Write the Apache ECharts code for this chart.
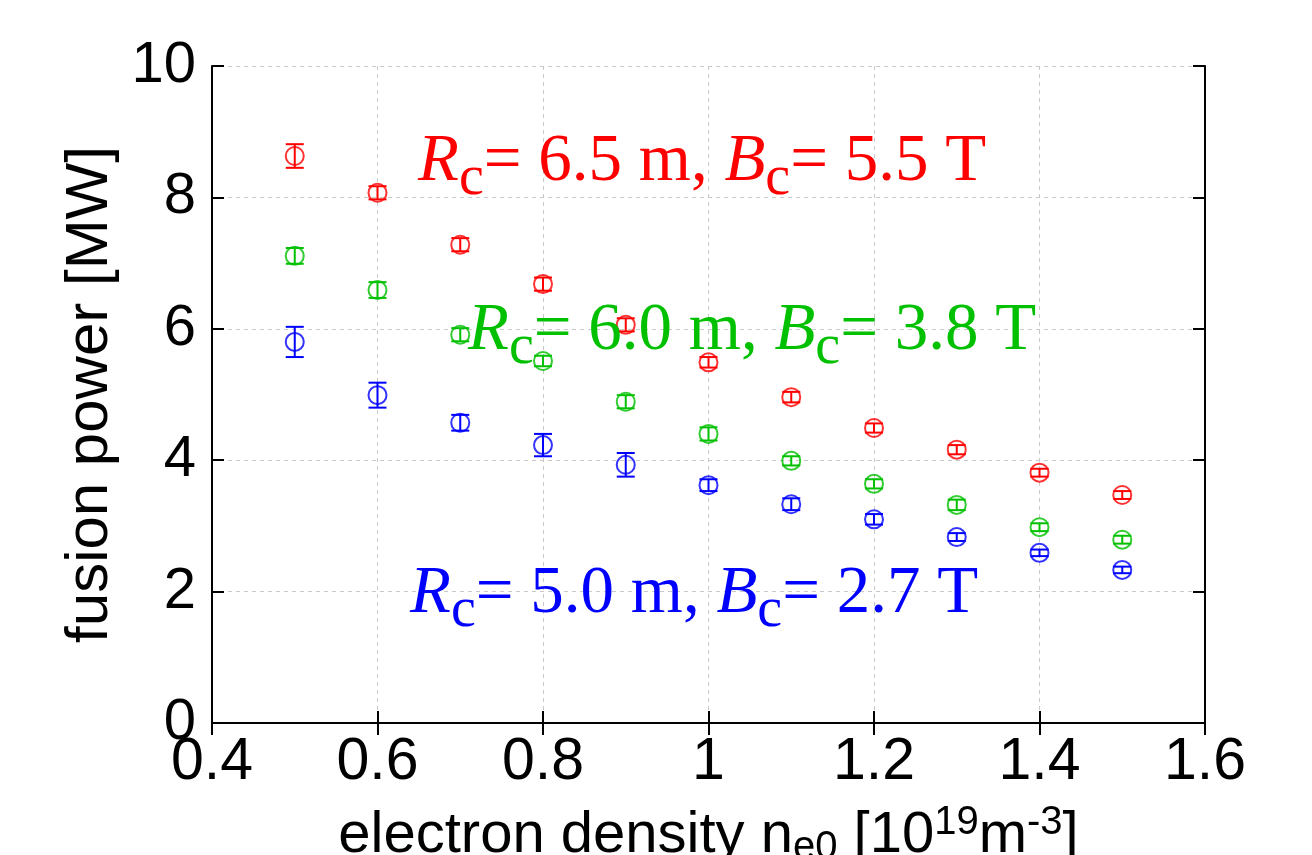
<!DOCTYPE html>
<html>
<head>
<meta charset="utf-8">
<script src="https://cdn.jsdelivr.net/npm/echarts@6/dist/echarts.min.js"></script>
<style>
html, body { margin: 0; padding: 0; background: #fff; }
#chart { width: 1312px; height: 855px; }
</style>
</head>
<body>
<div id="chart"></div>
<script>
// electron density [1e19 m^-3]
var density = [0.5, 0.6, 0.7, 0.8, 0.9, 1.0, 1.1, 1.2, 1.3, 1.4, 1.5];

// fusion power [MW] for each device
var powerR65 = [8.63, 8.07, 7.28, 6.68, 6.06, 5.49, 4.96, 4.49, 4.16, 3.81, 3.47];
var powerR60 = [7.11, 6.59, 5.91, 5.51, 4.89, 4.40, 3.99, 3.64, 3.32, 2.98, 2.79];
var powerR50 = [5.80, 4.99, 4.57, 4.23, 3.93, 3.62, 3.33, 3.10, 2.83, 2.59, 2.33];

// error bars (half width)
var errR65 = [0.18, 0.10, 0.10, 0.10, 0.10, 0.08, 0.08, 0.07, 0.07, 0.06, 0.06];
var errR60 = [0.12, 0.12, 0.10, 0.08, 0.10, 0.10, 0.07, 0.07, 0.08, 0.06, 0.06];
var errR50 = [0.23, 0.19, 0.12, 0.17, 0.18, 0.09, 0.09, 0.08, 0.06, 0.05, 0.05];

var xTicks = [0.4, 0.6, 0.8, 1.0, 1.2, 1.4, 1.6];
var yTicks = [0, 2, 4, 6, 8, 10];

var RED = '#ff0000', GREEN = '#00c000', BLUE = '#0000ff';

function pts(ys) {
    return density.map(function (x, i) { return [x, ys[i]]; });
}
function errPts(ys, es) {
    return density.map(function (x, i) { return [x, ys[i], es[i]]; });
}

function errBar(color) {
    return function (params, api) {
        var x = api.value(0), y = api.value(1), e = api.value(2);
        var hi = api.coord([x, y + e]);
        var lo = api.coord([x, y - e]);
        var w = 9;
        var st = { stroke: color, lineWidth: 2 };
        return {
            type: 'group',
            children: [
                { type: 'line', shape: { x1: hi[0], y1: hi[1], x2: lo[0], y2: lo[1] }, style: st },
                { type: 'line', shape: { x1: hi[0] - w, y1: hi[1], x2: hi[0] + w, y2: hi[1] }, style: st },
                { type: 'line', shape: { x1: lo[0] - w, y1: lo[1], x2: lo[0] + w, y2: lo[1] }, style: st }
            ]
        };
    };
}

function circles(name, ys, color) {
    return {
        name: name,
        type: 'scatter',
        data: pts(ys),
        symbol: 'circle',
        symbolSize: 18,
        itemStyle: { color: 'rgba(0,0,0,0)', borderColor: color, borderWidth: 2 },
        z: 3
    };
}
function bars(name, ys, es, color) {
    return {
        name: name,
        type: 'custom',
        data: errPts(ys, es),
        renderItem: errBar(color),
        z: 4
    };
}

var sans = 'Liberation Sans, Arial, sans-serif';
var serif = 'Liberation Serif, Times New Roman, serif';

function label(a, b) {
    return '{i|R}{s|c}{n|= ' + a + ' m, }{i|B}{s|c}{n|= ' + b + ' T}';
}
function labelRich(color) {
    return {
        i: { fontFamily: serif, fontSize: 67, fontStyle: 'italic', fill: color, color: color },
        n: { fontFamily: serif, fontSize: 67, fill: color, color: color },
        s: { fontFamily: serif, fontSize: 56, fill: color, color: color, padding: [34, 0, 0, 0] }
    };
}

var tickStyle = { show: true, inside: true, length: 12, lineStyle: { color: '#000', width: 2 } };
var gridLine = { show: true, lineStyle: { color: '#c8c8c8', type: [4, 4], width: 1 } };

var myChart = echarts.init(document.getElementById('chart'));

myChart.setOption({
    backgroundColor: '#fff',
    animation: false,
    grid: { left: 212, right: 107, top: 66, bottom: 132, containLabel: false, outerBoundsMode: 'none' },
    xAxis: [{
        type: 'value',
        min: xTicks[0],
        max: xTicks[xTicks.length - 1],
        interval: 0.2,
        position: 'bottom',
        axisLine: { show: true, lineStyle: { color: '#000', width: 2 } },
        axisTick: tickStyle,
        splitLine: gridLine,
        axisLabel: {
            color: '#000', fontSize: 59, fontFamily: sans, margin: 10,
            formatter: function (v) { return String(Math.round(v * 10) / 10); }
        },
        name: 'electron density n{sub|e0} [10{sup|19}m{sup|-3}]',
        nameLocation: 'middle',
        nameGap: 80,
        nameTextStyle: {
            color: '#000', fontSize: 58, fontFamily: sans,
            rich: {
                sub: { fontSize: 40, fontFamily: sans, color: '#000', padding: [24, 0, 0, 0] },
                sup: { fontSize: 40, fontFamily: sans, color: '#000', padding: [0, 0, 26, 0] }
            }
        }
    }, {
        type: 'value',
        min: xTicks[0],
        max: xTicks[xTicks.length - 1],
        interval: 0.2,
        position: 'top',
        axisLine: { show: true, lineStyle: { color: '#000', width: 2 } },
        axisTick: tickStyle,
        splitLine: { show: false },
        axisLabel: { show: false }
    }],
    yAxis: [{
        type: 'value',
        min: yTicks[0],
        max: yTicks[yTicks.length - 1],
        interval: 2,
        position: 'left',
        axisLine: { show: true, lineStyle: { color: '#000', width: 2 } },
        axisTick: tickStyle,
        splitLine: gridLine,
        axisLabel: { color: '#000', fontSize: 58, fontFamily: sans, margin: 16 },
        name: 'fusion power [MW]',
        nameLocation: 'middle',
        nameGap: 84,
        nameRotate: 90,
        nameTextStyle: { color: '#000', fontSize: 60, fontFamily: sans }
    }, {
        type: 'value',
        min: yTicks[0],
        max: yTicks[yTicks.length - 1],
        interval: 2,
        position: 'right',
        axisLine: { show: true, lineStyle: { color: '#000', width: 2 } },
        axisTick: tickStyle,
        splitLine: { show: false },
        axisLabel: { show: false }
    }],
    graphic: [
        {
            type: 'text', x: 418, y: 162, z: 10,
            style: { text: label('6.5', '5.5'), rich: labelRich(RED), fill: RED, verticalAlign: 'middle' }
        },
        {
            type: 'text', x: 468, y: 331, z: 10,
            style: { text: label('6.0', '3.8'), rich: labelRich(GREEN), fill: GREEN, verticalAlign: 'middle' }
        },
        {
            type: 'text', x: 410, y: 594, z: 10,
            style: { text: label('5.0', '2.7'), rich: labelRich(BLUE), fill: BLUE, verticalAlign: 'middle' }
        }
    ],
    series: [
        circles('Rc=6.5m', powerR65, RED),
        bars('Rc=6.5m err', powerR65, errR65, RED),
        circles('Rc=6.0m', powerR60, GREEN),
        bars('Rc=6.0m err', powerR60, errR60, GREEN),
        circles('Rc=5.0m', powerR50, BLUE),
        bars('Rc=5.0m err', powerR50, errR50, BLUE)
    ]
});
</script>
</body>
</html>
